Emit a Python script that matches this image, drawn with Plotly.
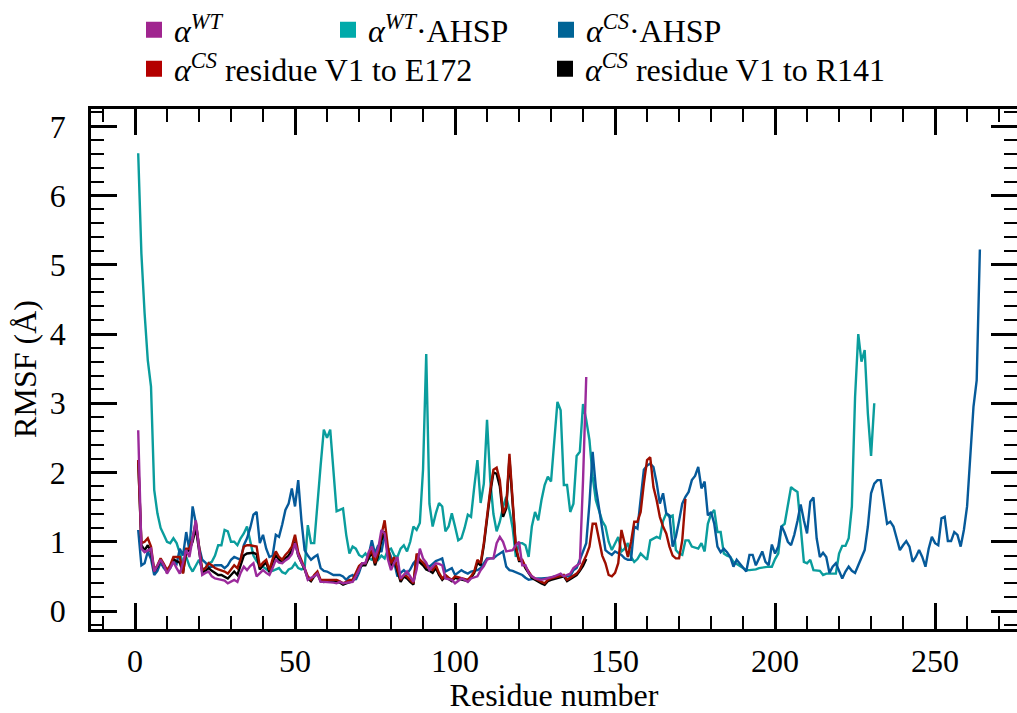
import plotly.graph_objects as go

# ---------------- data (RMSF in Angstrom, per residue) ----------------
wt = [2.61, 0.90, 0.85, 0.88, 0.90, 0.57, 0.65, 0.74, 0.66, 0.54,
      0.62, 0.71, 0.62, 0.54, 0.70, 0.88, 0.78, 1.05, 1.31, 0.90,
      0.52, 0.55, 0.57, 0.50, 0.47, 0.46, 0.45, 0.44, 0.40, 0.43,
      0.45, 0.42, 0.55, 0.64, 0.59, 0.65, 0.69, 0.50, 0.55, 0.59,
      0.55, 0.52, 0.62, 0.74, 0.70, 0.69, 0.73, 0.76, 0.82, 0.98,
      0.81, 0.70, 0.62, 0.45, 0.48, 0.50, 0.54, 0.42, 0.42, 0.42,
      0.42, 0.41, 0.40, 0.42, 0.40, 0.41, 0.42, 0.42, 0.50, 0.60,
      0.69, 0.69, 0.85, 0.93, 0.78, 0.90, 1.17, 1.12, 0.75, 0.59,
      0.70, 0.78, 0.47, 0.52, 0.57, 0.50, 0.42, 0.60, 0.90, 0.76,
      0.70, 0.59, 0.64, 0.69, 0.68, 0.66, 0.47, 0.46, 0.45, 0.40,
      0.44, 0.47, 0.45, 0.42, 0.47, 0.48, 0.50, 0.59, 0.65, 0.74,
      0.76, 0.76, 0.98, 1.07, 1.00, 0.86, 0.87, 0.88, 0.95, 1.00,
      0.66, 0.66, 0.55, 0.50, 0.47, 0.46, 0.45, 0.46, 0.47, 0.48,
      0.50, 0.52, 0.54, 0.50, 0.52, 0.54, 0.62, 0.66, 0.69, 1.89,
      3.38]

wt_ahsp = [6.61, 5.16, 4.30, 3.62, 3.24, 1.75, 1.41, 1.20, 1.10, 1.00,
           0.98, 1.05, 0.98, 0.85, 0.69, 0.78, 0.65, 0.57, 0.66, 0.74,
           0.60, 0.62, 0.69, 0.71, 0.80, 0.95, 0.95, 1.17, 1.15, 1.00,
           1.00, 0.95, 1.05, 1.12, 1.22, 1.00, 0.80, 0.72, 0.66, 0.64,
           0.60, 0.57, 0.58, 0.60, 0.62, 0.56, 0.54, 0.60, 0.62, 0.69,
           0.62, 0.60, 0.62, 1.24, 0.98, 0.98, 1.60, 2.10, 2.62, 2.50,
           2.62, 2.00, 1.44, 1.46, 1.48, 1.10, 0.83, 0.93, 0.90, 0.81,
           0.78, 0.83, 0.76, 0.74, 0.81, 0.74, 0.80, 0.76, 0.88, 0.90,
           0.80, 0.78, 0.90, 0.95, 0.86, 1.00, 1.22, 1.17, 1.27, 2.04,
           3.71, 1.55, 1.22, 1.41, 1.56, 1.51, 1.15, 1.22, 1.41, 1.22,
           1.02, 1.05, 1.20, 1.39, 1.36, 1.79, 2.18, 1.56, 1.84, 2.76,
           1.89, 1.40, 1.15, 1.29, 1.50, 1.65, 1.45, 1.20, 0.78, 0.98,
           0.98, 0.95, 0.78, 1.22, 1.43, 1.31, 1.60, 1.82, 1.94, 1.87,
           2.50, 3.02, 2.90, 1.82, 1.82, 1.43, 1.55, 2.24, 2.30, 2.99,
           2.76, 2.47, 1.94, 1.60, 1.45, 1.30, 1.22, 1.00, 0.88, 0.98,
           1.07, 0.86, 0.90, 0.98, 0.78, 0.71, 0.75, 0.83, 0.78, 0.74,
           1.02, 1.05, 1.07, 1.05, 1.30, 1.41, 1.36, 1.38, 0.88, 0.83,
           0.81, 1.02, 1.02, 0.93, 0.92, 0.90, 0.98, 0.86, 1.26, 1.40,
           1.46, 1.14, 1.14, 0.83, 0.80, 0.78, 0.71, 0.68, 0.64, 0.62,
           0.59, 0.59, 0.59, 0.60, 0.62, 0.63, 0.64, 0.64, 0.64, 0.75,
           0.83, 1.22, 1.26, 1.51, 1.79, 1.75, 1.72, 1.22, 0.71, 0.69,
           0.74, 0.59, 0.59, 0.58, 0.52, 0.54, 0.54, 0.54, 0.54, 0.83,
           0.94, 0.94, 1.05, 1.51, 3.09, 4.00, 3.60, 3.77, 2.85, 2.24,
           3.00]

cs_ahsp = [1.17, 0.66, 0.69, 0.86, 0.75, 0.52, 0.58, 0.70, 0.62, 0.57,
           0.62, 0.72, 0.68, 0.90, 0.80, 1.14, 0.88, 1.51, 1.27, 0.93,
           0.74, 0.70, 0.64, 0.64, 0.66, 0.66, 0.66, 0.62, 0.66, 0.74,
           0.78, 0.76, 0.74, 0.95, 1.05, 1.20, 1.39, 1.43, 0.98, 1.10,
           0.90, 0.78, 0.80, 1.10, 1.07, 1.25, 1.46, 1.55, 1.77, 1.51,
           1.89, 1.31, 0.88, 0.80, 0.74, 0.78, 0.81, 0.62, 0.58, 0.57,
           0.55, 0.52, 0.52, 0.52, 0.50, 0.45, 0.50, 0.52, 0.45, 0.55,
           0.69, 0.69, 0.80, 1.02, 0.83, 0.95, 0.85, 1.10, 0.90, 0.78,
           0.70, 0.50, 0.55, 0.59, 0.54, 0.60, 0.69, 0.74, 0.72, 0.69,
           0.66, 0.64, 0.68, 0.72, 0.74, 0.76, 0.57, 0.60, 0.62, 0.52,
           0.55, 0.59, 0.56, 0.54, 0.57, 0.58, 0.59, 0.62, 0.69, 0.76,
           0.76, 0.76, 0.80, 0.83, 0.86, 0.64, 0.59, 0.58, 0.56, 0.54,
           0.52, 0.48, 0.45, 0.46, 0.47, 0.47, 0.47, 0.47, 0.47, 0.48,
           0.50, 0.50, 0.50, 0.50, 0.50, 0.50, 0.59, 0.62, 0.74, 0.85,
           0.98, 1.55, 2.30, 1.79, 1.50, 1.22, 0.88, 0.84, 0.81, 0.86,
           0.84, 0.81, 0.76, 0.74, 0.74, 1.22, 1.19, 1.65, 2.04, 2.10,
           2.13, 2.08, 1.85, 1.55, 1.70, 1.41, 1.38, 0.93, 1.07, 1.30,
           1.55, 1.65, 1.72, 1.89, 1.95, 2.08, 1.77, 1.87, 1.38, 1.43,
           1.26, 0.93, 0.85, 0.90, 0.85, 0.78, 0.64, 0.74, 0.68, 0.62,
           0.57, 0.81, 0.81, 0.66, 0.75, 0.86, 0.71, 0.66, 0.96, 0.83,
           0.93, 1.23, 1.13, 1.00, 0.95, 1.10, 1.30, 1.54, 1.31, 1.12,
           1.58, 1.64, 1.05, 0.78, 0.84, 0.78, 0.55, 0.64, 0.69, 0.58,
           0.47, 0.57, 0.64, 0.58, 0.55, 0.66, 0.78, 0.88, 1.22, 1.70,
           1.84, 1.89, 1.89, 1.60, 1.26, 1.29, 1.22, 1.05, 0.88, 0.95,
           1.01, 0.93, 0.71, 0.78, 0.88, 0.78, 0.64, 0.90, 1.07, 0.98,
           0.95, 1.34, 1.36, 1.01, 1.01, 1.14, 1.10, 0.93, 1.17, 1.51,
           2.28, 2.95, 3.33, 5.22]

cs_e172 = [2.18, 0.98, 1.00, 1.05, 0.93, 0.59, 0.66, 0.76, 0.68, 0.59,
           0.66, 0.78, 0.78, 0.78, 0.54, 0.90, 0.90, 1.05, 1.29, 0.95,
           0.59, 0.62, 0.69, 0.66, 0.62, 0.60, 0.59, 0.57, 0.54, 0.60,
           0.66, 0.62, 0.75, 0.93, 0.95, 0.95, 0.94, 0.93, 0.64, 0.70,
           0.74, 0.59, 0.75, 0.86, 0.78, 0.74, 0.81, 0.86, 0.93, 1.10,
           0.85, 0.74, 0.62, 0.50, 0.45, 0.52, 0.57, 0.45, 0.45, 0.45,
           0.45, 0.45, 0.45, 0.43, 0.40, 0.42, 0.45, 0.45, 0.55, 0.65,
           0.69, 0.69, 0.80, 0.88, 0.69, 0.85, 1.10, 1.31, 0.93, 0.69,
           0.78, 0.60, 0.45, 0.52, 0.50, 0.45, 0.40, 0.83, 0.74, 0.70,
           0.64, 0.62, 0.59, 0.66, 0.55, 0.47, 0.52, 0.48, 0.45, 0.50,
           0.49, 0.47, 0.46, 0.45, 0.50, 0.57, 0.74, 0.69, 0.98, 1.41,
           1.75, 2.04, 2.07, 1.89, 1.41, 1.51, 2.27, 1.60, 0.93, 0.74,
           0.74, 0.64, 0.57, 0.50, 0.47, 0.44, 0.42, 0.40, 0.45, 0.47,
           0.48, 0.50, 0.51, 0.52, 0.45, 0.48, 0.50, 0.54, 0.60, 0.69,
           0.80, 0.93, 1.26, 1.26, 1.02, 0.80, 0.69, 0.52, 0.50, 0.55,
           0.69, 1.17, 0.98, 0.78, 1.00, 1.29, 1.29, 1.43, 1.84, 2.18,
           2.22, 1.79, 1.60, 1.36, 1.22, 1.12, 0.93, 0.80, 0.76, 0.76,
           1.02, 1.62]

cs_r141 = [2.18, 0.95, 0.88, 0.95, 0.85, 0.57, 0.64, 0.74, 0.66, 0.56,
           0.64, 0.75, 0.72, 0.70, 0.55, 0.85, 0.88, 1.00, 1.20, 0.90,
           0.56, 0.58, 0.62, 0.58, 0.55, 0.52, 0.52, 0.50, 0.47, 0.52,
           0.57, 0.52, 0.65, 0.80, 0.83, 0.83, 0.84, 0.82, 0.60, 0.66,
           0.70, 0.56, 0.70, 0.80, 0.74, 0.70, 0.76, 0.80, 0.88, 1.00,
           0.80, 0.70, 0.60, 0.47, 0.43, 0.50, 0.54, 0.43, 0.42, 0.43,
           0.43, 0.42, 0.42, 0.41, 0.38, 0.40, 0.42, 0.43, 0.50, 0.62,
           0.66, 0.66, 0.76, 0.85, 0.66, 0.80, 1.02, 1.15, 0.85, 0.65,
           0.74, 0.56, 0.42, 0.50, 0.47, 0.42, 0.38, 0.78, 0.70, 0.66,
           0.60, 0.58, 0.55, 0.62, 0.52, 0.45, 0.50, 0.46, 0.43, 0.48,
           0.47, 0.45, 0.44, 0.43, 0.48, 0.55, 0.70, 0.66, 0.95, 1.35,
           1.70, 2.00, 1.98, 1.80, 1.36, 1.48, 2.20, 1.55, 0.90, 0.72,
           0.72, 0.62, 0.55, 0.48, 0.45, 0.42, 0.40, 0.38, 0.43, 0.45,
           0.46, 0.48, 0.49, 0.50, 0.43, 0.46, 0.48, 0.52, 0.58, 0.65,
           0.75]

labels = ["<i>α</i><sup><i>WT</i></sup>",
          "<i>α</i><sup><i>WT</i></sup>·AHSP",
          "<i>α</i><sup><i>CS</i></sup>·AHSP",
          "<i>α</i><sup><i>CS</i></sup> residue V1 to E172",
          "<i>α</i><sup><i>CS</i></sup> residue V1 to R141"]

series = [wt, wt_ahsp, cs_ahsp, cs_e172, cs_r141]
line_colors = ["#9B2A9B", "#0A9D9D", "#065A9A", "#9E0E00", "#000000"]
legend_colors = ["#A0258F", "#00AAAA", "#006496", "#B40000", "#000000"]

FONT = "Liberation Serif"
FS = 32

fig = go.Figure()

# draw order: teal, blue, black, red, purple
for i in [1, 2, 4, 3, 0]:
    ys = series[i]
    xs = list(range(1, len(ys) + 1))
    fig.add_trace(go.Scatter(x=xs, y=ys, mode="lines",
                             line=dict(color=line_colors[i], width=2.4),
                             name=labels[i], showlegend=False,
                             legendgroup=str(i)))

# legend entries (square patches)
legend_of = ["legend", "legend", "legend", "legend2", "legend2"]
legend_w = [149, 173, 150, 366, 330]
for i in range(5):
    fig.add_trace(go.Scatter(x=[None], y=[None], mode="markers",
                             marker=dict(symbol="square", size=16,
                                         color=legend_colors[i]),
                             name=labels[i], legend=legend_of[i],
                             legendgroup=str(i), legendwidth=legend_w[i],
                             showlegend=True))

axis_common = dict(showline=True, linewidth=2.5, linecolor="black",
                   mirror="allticks", ticks="inside", ticklen=26,
                   tickwidth=2.5, tickcolor="black", showgrid=False,
                   zeroline=False,
                   tickfont=dict(family=FONT, size=FS, color="black"))

fig.update_xaxes(range=[-13.75, 275.6], tick0=0, dtick=50,
                 minor=dict(dtick=10, ticks="inside", ticklen=13,
                            tickwidth=1.5, tickcolor="black"),
                 title=dict(text="Residue number",
                            font=dict(family=FONT, size=FS, color="black"),
                            standoff=23),
                 ticklabelstandoff=2,
                 **axis_common)
fig.update_yaxes(range=[-0.26, 7.25], tick0=0, dtick=1,
                 minor=dict(dtick=0.2, ticks="inside", ticklen=13,
                            tickwidth=1.5, tickcolor="black"),
                 title=dict(text="RMSF (Å)",
                            font=dict(family=FONT, size=FS, color="black"),
                            standoff=4),
                 ticklabelstandoff=16,
                 **axis_common)

legend_common = dict(orientation="h", xref="container", yref="container",
                     xanchor="left", yanchor="middle",
                     font=dict(family=FONT, size=FS, color="black"),
                     bgcolor="rgba(0,0,0,0)", borderwidth=0,
                     itemsizing="trace", tracegroupgap=0)
fig.update_layout(
    width=1017, height=713,
    margin=dict(l=91, r=0, t=109, b=84, autoexpand=False),
    paper_bgcolor="white", plot_bgcolor="white",
    font=dict(family=FONT, size=FS, color="black"),
    legend=dict(x=134 / 1017, y=1 - 30 / 713, **legend_common),
    legend2=dict(x=134 / 1017, y=1 - 69 / 713, **legend_common),
)

fig.write_html("out.html")
